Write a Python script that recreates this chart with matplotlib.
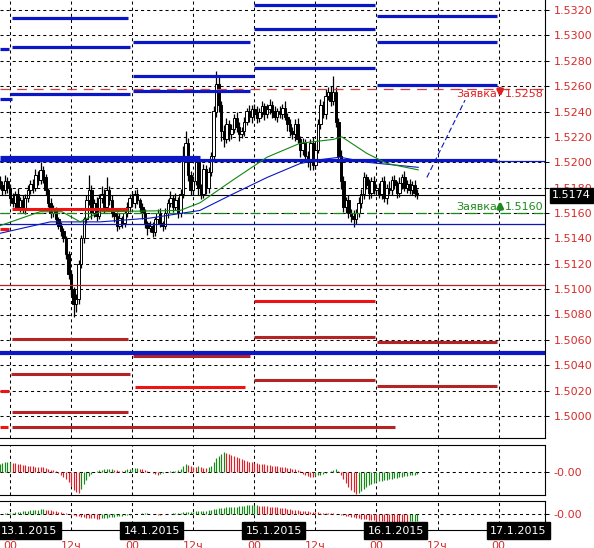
import matplotlib
matplotlib.use('Agg')
import matplotlib.pyplot as plt
import numpy as np
from matplotlib import transforms

plt.rcParams['lines.scale_dashes'] = False
plt.rcParams['font.family'] = ['DejaVu Sans']

# ---------------- data ----------------
# 30-minute bars, time in hours from 13.1.2015 00:00
bar_start_hour = -2.0
bar_step_hour = 0.5

closes = [
    1.5182, 1.5178, 1.5185, 1.5180,
    1.5172, 1.5168, 1.5175, 1.5165, 1.5170, 1.5163, 1.5172, 1.5178,
    1.5183, 1.5180, 1.5190, 1.5186, 1.5194, 1.5188,
    1.5178, 1.5168, 1.5160, 1.5163, 1.5155,
    1.5150, 1.5146, 1.5140, 1.5128,
    1.5112, 1.5100, 1.5088, 1.5092, 1.5120,
    1.5140, 1.5155, 1.5170, 1.5178,
    1.5160, 1.5168, 1.5158, 1.5172, 1.5175, 1.5165, 1.5178,
    1.5170, 1.5160, 1.5158, 1.5150, 1.5156, 1.5152, 1.5160,
    1.5165, 1.5172, 1.5168, 1.5175, 1.5170, 1.5165, 1.5160,
    1.5152, 1.5148, 1.5150, 1.5145, 1.5155, 1.5160, 1.5152, 1.5150,
    1.5160, 1.5168, 1.5172, 1.5165, 1.5170, 1.5160, 1.5175,
    1.5205, 1.5215, 1.5190, 1.5178,
    1.5185, 1.5200, 1.5180, 1.5175, 1.5195, 1.5180, 1.5192, 1.5205,
    1.5240, 1.5262, 1.5245, 1.5225,
    1.5218, 1.5230, 1.5222, 1.5226, 1.5235, 1.5228, 1.5222, 1.5225,
    1.5232, 1.5240, 1.5236, 1.5242, 1.5238, 1.5235, 1.5240, 1.5244, 1.5238,
    1.5242, 1.5245, 1.5240, 1.5236, 1.5240, 1.5238, 1.5243, 1.5236, 1.5230, 1.5225,
    1.5222, 1.5230, 1.5218, 1.5210, 1.5215,
    1.5205, 1.5200, 1.5215, 1.5198, 1.5210,
    1.5230, 1.5245, 1.5238, 1.5252, 1.5255, 1.5248, 1.5255,
    1.5232, 1.5205, 1.5185, 1.5165, 1.5170, 1.5160,
    1.5158, 1.5155, 1.5160, 1.5168, 1.5175,
    1.5188, 1.5182, 1.5176, 1.5185, 1.5178, 1.5180, 1.5175,
    1.5185, 1.5172, 1.5180, 1.5178, 1.5186, 1.5182, 1.5176, 1.5184, 1.5188,
    1.5180, 1.5183, 1.5178, 1.5182, 1.5176, 1.5174,
]
first_open = 1.5185

# wick lengths above / below the body, in pips
wick_up = [
    4, 3, 5, 3,  3, 4, 2, 5, 3, 4, 3, 4,  3, 4, 5, 3, 6, 3,  3, 2, 4, 3, 2,
    2, 3, 2, 2,  2, 3, 2, 4, 3,  3, 2, 4, 12,  4, 3, 5, 3, 6, 4, 10,
    3, 4, 2, 3, 4, 2, 3,  4, 3, 5, 3, 4, 2, 3,  3, 2, 4, 3, 2, 3, 4, 2,
    4, 3, 5, 2, 6, 3, 4,  8, 10, 4, 3,  4, 3, 5, 3, 4, 3, 4, 3,  4, 10, 5, 3,
    4, 5, 3, 4, 3, 5, 4, 3,  4, 3, 5, 3, 4, 6, 3, 4, 3,
    4, 5, 3, 4, 3, 4, 3, 5, 3, 4,  3, 4, 5, 3, 4,  3, 4, 3, 5, 4,
    4, 5, 3, 6, 4, 5, 13,  4, 3, 5, 4, 3, 4,  3, 4, 3, 5, 4,  4, 3, 5, 3, 4, 3, 4,
    3, 4, 3, 5, 3, 4, 3, 4, 3, 5, 3, 4, 3, 4, 3,
]
wick_dn = [
    3, 4, 3, 4,  4, 3, 5, 3, 4, 3, 4, 3,  3, 4, 3, 4, 3, 4,  4, 3, 4, 3, 4,
    3, 4, 3, 4,  4, 5, 10, 6, 4,  3, 4, 3, 4,  5, 3, 4, 3, 4, 5, 3,
    4, 3, 5, 4, 3, 4, 3,  3, 4, 3, 4, 3, 4, 5,  4, 5, 3, 4, 3, 4, 3, 4,
    3, 4, 3, 4, 3, 4, 3,  3, 4, 5, 4,  4, 3, 6, 4, 3, 5, 4, 3,  3, 4, 5, 8,
    6, 3, 5, 4, 3, 4, 5, 3,  4, 3, 4, 5, 3, 4, 3, 4, 5,
    3, 4, 5, 3, 4, 3, 4, 3, 5, 4,  4, 5, 3, 6, 4,  5, 4, 6, 4, 3,
    3, 4, 3, 4, 3, 4, 3,  4, 5, 6, 4, 5, 4,  5, 6, 4, 3, 4,  4, 3, 5, 4, 3, 4, 3,
    4, 3, 5, 3, 4, 3, 4, 3, 5, 3, 4, 3, 4, 3, 3,
]

# moving averages (vertices: hour, price)
ma_fast_t = [-1.96, 5.9, 10.2, 13.8, 17.7, 33.4, 37.3, 43.8, 50.5, 57.0, 63.5, 65.2, 70.1, 74.1, 80.2]
ma_fast_p = [1.5150, 1.5161, 1.5161, 1.5153, 1.5161, 1.5162, 1.5168, 1.5186, 1.5204, 1.5215,
             1.5218, 1.5220, 1.5207, 1.5199, 1.5194]
ma_slow_t = [-1.96, 7.9, 17.7, 27.5, 37.3, 43.8, 50.5, 57.0, 60.9, 64.8, 70.1, 80.2]
ma_slow_p = [1.5144, 1.5153, 1.5153, 1.5156, 1.5162, 1.5175, 1.5188, 1.5199, 1.5202, 1.5204,
             1.5200, 1.5196]

# daily level segments: (price, start hour, end hour)
blue_levels = [
    (1.5289, -2.0, -0.2), (1.5250, -2.0, 0.4),
    (1.5314, 0.4, 23.2), (1.5291, 0.4, 23.6), (1.5254, 0.0, 23.6),
    (1.5295, 24.2, 47.2), (1.5268, 24.2, 47.9), (1.5256, 24.2, 47.2),
    (1.5324, 47.9, 71.7), (1.5305, 47.9, 71.7), (1.5274, 47.9, 71.7),
    (1.5315, 72.1, 95.7), (1.5295, 72.1, 95.7), (1.5261, 72.1, 95.7),
    (1.5204, -2.0, 37.3), (1.5202, -2.0, 95.7),
]
red_bright_levels = [
    (1.5147, -2.0, -0.2), (1.5163, 0.4, 23.2), (1.5023, 24.6, 46.2),
    (1.5091, 47.9, 71.7), (1.5020, -2.0, -0.2), (1.4991, -2.0, -0.3),
]
red_dark_levels = [
    (1.5061, 0.4, 23.2), (1.5033, 0.2, 23.6), (1.5003, 0.4, 23.2), (1.4991, 0.4, 75.6),
    (1.5047, 24.2, 47.2), (1.5062, 47.9, 71.7), (1.5028, 47.9, 71.7),
    (1.5058, 72.1, 95.7), (1.5024, 72.1, 95.7),
]
support_blue_thick = 1.5050
support_blue_thin = 1.5151
resist_blue_thin = 1.5201
red_thin_level = 1.5103
current_price = 1.5174
sell_order = 1.5258
buy_order = 1.5160
trend_t = [81.9, 89.4]
trend_p = [1.5188, 1.5249]

price_ticks = [1.5000, 1.5020, 1.5040, 1.5060, 1.5080, 1.5100, 1.5120, 1.5140, 1.5160,
               1.5180, 1.5200, 1.5220, 1.5240, 1.5260, 1.5280, 1.5300, 1.5320]
price_labels = ['1.5000', '1.5020', '1.5040', '1.5060', '1.5080', '1.5100', '1.5120', '1.5140',
                '1.5160', '1.5180', '1.5200', '1.5220', '1.5240', '1.5260', '1.5280', '1.5300',
                '1.5320']
grid_hours = [0, 12, 24, 36, 48, 60, 72, 84, 96]
day_hours = [0, 24, 48, 72, 96]
day_labels = ['13.1.2015', '14.1.2015', '15.1.2015', '16.1.2015', '17.1.2015']
hour_labels = ['00', '12ч', '00', '12ч', '00', '12ч', '00', '12ч', '00']

osc1 = [
    8, 9, 10, 10,
    10, 9, 9, 8, 8, 7, 7, 6, 6, 6, 5, 5, 5, 5,
    4, 3, 2, 2, 1,
    -1, -3, -5, -7, -10, -14, -18, -20, -21,
    -17, -12, -8, -4, -2, 0,
    1, 2, 2, 3, 3, 3, 3, 2, 2, 1, 1, 2, 3, 3,
    3, 4, 4, 3, 3, 2, 1, 0, -1, -2, -3, -2, -1,
    0, 0, 1, 1, 1, 2, 3,
    6, 8, 7, 6, 5, 5, 6, 5,
    4, 4, 5, 6,
    10, 14, 16, 18, 20, 19,
    18, 17, 16, 15, 14, 13, 12, 11, 10, 10, 9, 9, 8, 8, 8,
    7, 7, 6, 6, 6, 5, 5, 5, 4, 4, 3, 3, 2, 1,
    -2, -3, -4, -5, -5, -4, -3, -3, -2, -1, 0, 1,
    2, 3, 1,
    -3, -7, -11, -15, -18, -20, -22, -21,
    -19, -17, -15, -13, -12, -11, -10, -9, -9, -8, -8, -7, -7, -6, -6, -5, -5, -4, -4,
    -3, -3, -3, -2,
]
osc2 = [
    0, 0, 1, 1, 1, 1, 2, 2,
    2, 3, 3, 3, 4, 4, 4, 4, 5, 5, 4, 4, 4, 3, 3, 2, 2,
    1, 1, 0, -1, -1, -2, -2,
    -3, -3, -4, -4, -4, -4, -5, -5, -4, -4, -4, -3, -3, -3, -2, -2, -2, -1, -1,
    -1, 0, 0, 0, 0, 1, 1, 1, 0, 0, 0, -1, -1, 0, 0, 0, 0, 1, 1, 1, 1, 2, 2, 2,
    2, 2, 3, 3, 3, 3, 3, 4, 4, 5, 5, 6, 6, 6, 7, 7, 7, 7, 7, 8,
    8, 8, 9, 9, 9, 9, 9, 8, 8, 8, 8, 7, 7, 7, 7, 6, 6, 6, 5, 5,
    4, 4, 4, 3, 3, 3, 3, 2, 2, 2, 2, 1, 1, 1, 1, 1, 1,
    0, 0, -1, -1, -2, -2, -3, -3, -4, -4, -5, -5, -5, -6, -6, -6, -7, -7, -7, -7,
    -8, -8, -8, -8, -8, -8, -8, -8, -8, -7, -7, -7, -7,
]

# ---------------- styling ----------------
W, H = 594, 548
BLUE = '#0B16C4'
RED_B = '#EE1414'
RED_D = '#B42424'
LBL_RED = '#D92B2B'
GREEN = '#168A16'
HRED = '#E01E2A'
DASH = (0, (2.2, 2.2))
PXH = 5.09            # pixels per hour
PXP = 12687.5         # pixels per price unit
XMIN, XMAX = -10 / PXH, 535 / PXH
YMAX = 1.5320 + 10 / PXP
YMIN = 1.5320 - 428 / PXP

fig = plt.figure(figsize=(W / 100, H / 100), dpi=100)
fig.patch.set_facecolor('white')

ax = fig.add_axes([0, 110 / H, 545 / W, 438 / H])
p1 = fig.add_axes([0, 53 / H, 545 / W, 50 / H])
p2 = fig.add_axes([0, 18 / H, 545 / W, 29 / H])

for a in (ax, p1, p2):
    a.set_xlim(XMIN, XMAX)
    a.set_facecolor('white')
    a.set_xticks(grid_hours)
    a.set_xticklabels([])
    a.tick_params(axis='x', length=0)
    a.xaxis.grid(True, linestyle=DASH, color='black', lw=0.75)
    a.yaxis.tick_right()
    a.tick_params(axis='y', right=True, left=False, length=3, width=0.75, color='black',
                  labelcolor=LBL_RED, labelsize=8, pad=3)
    for s in a.spines.values():
        s.set_linewidth(0.8)
        s.set_color('black')
    a.set_axisbelow(True)

ax.spines['top'].set_visible(False)
ax.spines['left'].set_visible(False)
p1.spines['left'].set_visible(False)
p2.spines['left'].set_visible(False)

# main axes
ax.set_ylim(YMIN, YMAX)
ax.set_yticks(price_ticks)
ax.set_yticklabels(price_labels)
ax.yaxis.grid(True, linestyle=DASH, color='black', lw=0.75)

n = len(closes)
t = bar_start_hour + bar_step_hour * np.arange(n)
c = np.array(closes)
o = np.concatenate([[first_open], c[:-1]])
hi = np.maximum(o, c) + np.array(wick_up) * 1e-4
lo = np.minimum(o, c) - np.array(wick_dn) * 1e-4
ax.vlines(t, lo, hi, color='black', lw=0.9, zorder=2)
up = c >= o
body_w = 0.48
ax.bar(t[up], (c - o)[up], bottom=o[up], width=body_w, facecolor='white',
       edgecolor='black', linewidth=0.7, zorder=2.5)
ax.bar(t[~up], (o - c)[~up], bottom=c[~up], width=body_w, facecolor='black',
       edgecolor='black', linewidth=0.7, zorder=2.5)

# level lines
for p, a0, a1 in blue_levels:
    ax.plot([a0, a1], [p, p], color=BLUE, lw=2.3, solid_capstyle='butt', zorder=4)
for p, a0, a1 in red_bright_levels:
    ax.plot([a0, a1], [p, p], color=RED_B, lw=2.2, solid_capstyle='butt', zorder=4)
for p, a0, a1 in red_dark_levels:
    ax.plot([a0, a1], [p, p], color=RED_D, lw=2.2, solid_capstyle='butt', zorder=4)

ax.axhline(support_blue_thick, color=BLUE, lw=3.0, zorder=4)
ax.axhline(support_blue_thin, color=BLUE, lw=0.9, zorder=4)
ax.axhline(resist_blue_thin, color=BLUE, lw=0.9, zorder=4)
ax.axhline(red_thin_level, color=RED_D, lw=0.9, zorder=4)
ax.axhline(current_price, color='black', lw=0.8, zorder=4)
ax.axhline(sell_order, color='#D04040', lw=0.9, linestyle=(0, (7, 5)), zorder=4)
ax.axhline(buy_order, color=GREEN, lw=0.9, linestyle=(0, (7, 5)), zorder=4)

# moving averages
ax.plot(ma_slow_t, ma_slow_p, color=BLUE, lw=0.8, zorder=5)
ax.plot(ma_fast_t, ma_fast_p, color='#118811', lw=0.8, zorder=5)

# trend line
ax.plot(trend_t, trend_p, color=BLUE, lw=0.8, linestyle=(0, (4, 2)), zorder=5)

# order labels
arrow_t = 96.3
ax.text(95.7, 1.52538, 'Заявка', color='#E02020', fontsize=8, ha='right', va='center', zorder=6)
ax.text(97.2, 1.52538, '1.5258', color='#E02020', fontsize=8, ha='left', va='center', zorder=6)
ax.annotate('', xy=(arrow_t, 1.5320 - 90 / PXP), xytext=(arrow_t, 1.5320 - 76 / PXP),
            arrowprops=dict(arrowstyle='-|>', color='#E02020', lw=2.4, mutation_scale=8), zorder=6)
ax.text(95.7, 1.51645, 'Заявка', color='#1E8A1E', fontsize=8, ha='right', va='center', zorder=6)
ax.text(97.2, 1.51645, '1.5160', color='#1E8A1E', fontsize=8, ha='left', va='center', zorder=6)
ax.annotate('', xy=(arrow_t, 1.5320 - 188 / PXP), xytext=(arrow_t, 1.5320 - 202 / PXP),
            arrowprops=dict(arrowstyle='-|>', color='#1E8A1E', lw=2.4, mutation_scale=8), zorder=6)

# current price box
ax.text(1 + 7 / 545, current_price, '%.4f' % current_price,
        transform=transforms.blended_transform_factory(ax.transAxes, ax.transData),
        color='white', fontsize=8, ha='left', va='center', zorder=10, clip_on=False,
        bbox=dict(boxstyle='square,pad=0.22', fc='black', ec='black'))


def hist_colors(v):
    cols = []
    for k in range(len(v)):
        if k == 0 or v[k] > v[k - 1]:
            cols.append(GREEN)
        elif v[k] < v[k - 1]:
            cols.append(HRED)
        else:
            cols.append(cols[-1])
    return cols


# oscillator panel 1
p1.set_ylim(-23, 27)
p1.set_yticks([0])
p1.set_yticklabels(['-0.00'])
p1.axhline(0, color='black', lw=0.75, linestyle=DASH, zorder=1)
p1.vlines(t, 0, osc1, colors=hist_colors(osc1), lw=0.85, zorder=3)

# oscillator panel 2
p2.set_ylim(-16, 13)
p2.set_yticks([0])
p2.set_yticklabels(['-0.00'])
p2.axhline(0, color='black', lw=0.75, linestyle=DASH, zorder=1)
p2.vlines(t, 0, osc2, colors=hist_colors(osc2), lw=0.85, zorder=3)

# date labels and hour labels
btr = transforms.blended_transform_factory(p2.transData, fig.transFigure)
for dh, lab in zip(day_hours, day_labels):
    p2.text(dh - 8.7 / PXH, (H - 530.5) / H, lab, transform=btr, color='white', fontsize=8,
            ha='left', va='center', clip_on=False, zorder=10,
            bbox=dict(boxstyle='square,pad=0.3', fc='black', ec='black'))
for gh, lab in zip(grid_hours, hour_labels):
    p2.text(gh, (H - 541) / H, lab, transform=btr, color=LBL_RED, fontsize=8,
            ha='center', va='top', clip_on=False, zorder=9)

fig.savefig('out.png', dpi=100)
